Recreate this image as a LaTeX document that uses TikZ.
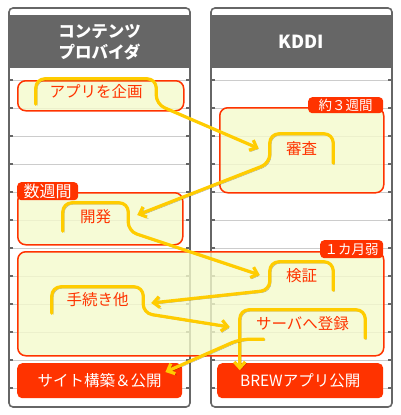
\documentclass[tikz,border=0pt]{standalone}
\usepackage{fontspec}
\setmainfont{Noto Sans CJK JP}
\usetikzlibrary{arrows.meta,calc}
\definecolor{redc}{HTML}{FF3300}
\definecolor{paleyel}{HTML}{F4FACC}
\definecolor{yel}{HTML}{FFCC00}
\definecolor{hdr}{HTML}{666666}
\definecolor{gridc}{HTML}{CCCCCC}
\begin{document}
\begin{tikzpicture}[x=1pt,y=-1pt,
  colborder/.style={draw=hdr,line width=1.6pt,rounded corners=4pt},
  gridline/.style={draw=gridc,line width=1pt},
  tickline/.style={draw=hdr,line width=1.2pt},
  region/.style={draw=redc,line width=1.5pt,fill=paleyel,fill opacity=0.8,rounded corners=8pt,inner sep=0pt,anchor=north west},
  tagbox/.style={fill=redc,text=white,rounded corners=4pt,inner sep=0pt,anchor=north west},
  bottombox/.style={fill=redc,text=white,rounded corners=5pt,inner sep=0pt,anchor=north west,font=\fontsize{15.5pt}{18pt}\selectfont},
  lbl/.style={inner sep=0pt,text=redc,font=\fontsize{15.5pt}{18pt}\selectfont},
  hdrtext/.style={text=white,align=center,font=\bfseries\fontsize{16.5pt}{21pt}\selectfont},
  callout/.style={draw=yel,line width=3.2pt,line cap=round,line join=round,rounded corners=9pt,
    preaction={draw=black,draw opacity=0.35,transform canvas={shift={(1.4pt,-1.4pt)}}}},
  tip/.style={-{Straight Barb[length=6pt,width=11pt]}}
]
\useasboundingbox (0,0) rectangle (400,415);
% columns
\foreach \xa/\xb in {9/190,211/392}{
  \fill[white,rounded corners=4pt] (\xa,8) rectangle (\xb,407);
  \fill[hdr] (\xa,15) rectangle (\xb,68);
  \foreach \yy in {80,108,...,388}{
    \draw[gridline] (\xa,\yy) -- (\xb,\yy);
    \draw[tickline] (\xa,\yy) -- (\xa+4,\yy);
    \draw[tickline] (\xb-4,\yy) -- (\xb,\yy);
  }
  \draw[colborder] (\xa,8) rectangle (\xb,407);
}
\node[hdrtext] (h1) at (99.5,42) {コンテンツ\\プロバイダ};
\node[hdrtext,font=\bfseries\fontsize{18pt}{21pt}\selectfont] (h2) at (301.5,42) {KDDI};
% regions
\node[region,minimum width=166pt,minimum height=30pt] (A) at (17,80) {};
\node[region,minimum width=164pt,minimum height=85pt] (B) at (219,107) {};
\node[region,minimum width=165pt,minimum height=52pt] (C) at (17,192) {};
\node[region,minimum width=366pt,minimum height=104pt] (D) at (17,251) {};
% tags
\node[tagbox,minimum width=75pt,minimum height=16pt,font=\fontsize{13.5pt}{15pt}\selectfont] (tB) at (308,97) {約３週間};
\node[tagbox,minimum width=61pt,minimum height=18pt,font=\fontsize{16pt}{18pt}\selectfont] (tC) at (17,182) {数週間};
\node[tagbox,minimum width=63pt,minimum height=18pt,font=\fontsize{13.5pt}{15pt}\selectfont] (tD) at (320,240) {１カ月弱};
% bottom boxes
\node[bottombox,minimum width=165pt,minimum height=35pt] (S1) at (17,363) {サイト構築＆公開};
\node[bottombox,minimum width=166pt,minimum height=35pt] (S2) at (217,363) {BREWアプリ公開};
% labels
\node[lbl,minimum width=120pt,minimum height=25pt] (L1) at (96,91.5) {アプリを企画};
\node[lbl,minimum width=63pt,minimum height=29pt] (L2) at (301.5,148.5) {審査};
\node[lbl,minimum width=65pt,minimum height=28pt] (L3) at (95.5,217) {開発};
\node[lbl,minimum width=63pt,minimum height=28pt] (L4) at (301.5,276) {検証};
\node[lbl,minimum width=91pt,minimum height=26pt] (L5) at (97.5,300) {手続き他};
\node[lbl,minimum width=125pt,minimum height=28pt] (L6) at (302.5,324) {サーバへ登録};
% arrow tip coordinates
\coordinate (t1) at ($(L2.west)+(-11,0)$);
\coordinate (t2) at ($(L3.east)+(9,-2)$);
\coordinate (t3) at ($(L4.west)+(-10,-1)$);
\coordinate (t4) at ($(L5.east)+(8,3)$);
\coordinate (t5) at ($(L6.west)+(-10,3)$);
\coordinate (t6a) at ($(L6.south west)+(0,32)$);
\coordinate (t6b) at ($(S1.north east)+(-17,9)$);
\coordinate (j6) at ($(L6.south west)+(24,1)$);
% callouts with connectors
\draw[callout,tip] (L1.south west) -- (L1.north west) -- (L1.north east) -- (L1.south east) -- (t1);
\draw[callout,tip] (L2.south east) -- (L2.north east) -- (L2.north west) -- (L2.south west) -- (t2);
\draw[callout,tip] (L3.south west) -- (L3.north west) -- (L3.north east) -- (L3.south east) -- (t3);
\draw[callout,tip] (L4.south east) -- (L4.north east) -- (L4.north west) -- (L4.south west) -- (t4);
\draw[callout,tip] (L5.south west) -- (L5.north west) -- (L5.north east) -- (L5.south east) -- (t5);
\draw[callout,tip] (L6.south east) -- (L6.north east) -- (L6.north west) -- (L6.south west) -- (t6a);
\draw[callout,tip] (j6) -- ($(L6.south west)+(0,1)$) -- (t6b);
\end{tikzpicture}
\end{document}
